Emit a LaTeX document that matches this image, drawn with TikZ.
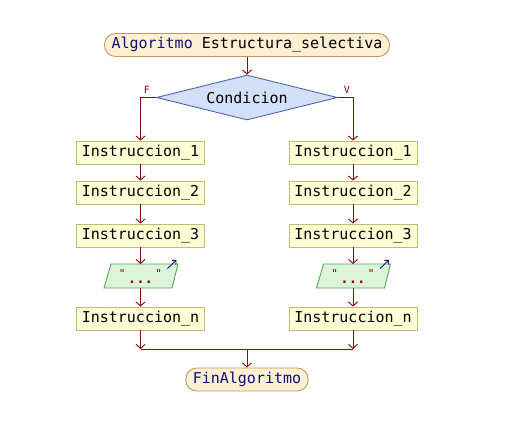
\documentclass[tikz,border=0pt]{standalone}
\usepackage{fontspec}
\setmonofont{DejaVu Sans Mono}
\usetikzlibrary{calc}
\usetikzlibrary{arrows}
\usetikzlibrary{arrows.meta}
\usetikzlibrary{shapes.geometric}
\definecolor{FlowRed}{HTML}{8C0A0A}
\definecolor{KeyBlue}{HTML}{10107A}
\definecolor{TermFill}{HTML}{FCEFD2}
\definecolor{TermLine}{HTML}{C49A5A}
\definecolor{BoxFill}{HTML}{FFFFD6}
\definecolor{BoxLine}{HTML}{C2BC74}
\definecolor{CondFill}{HTML}{D2E0F8}
\definecolor{CondLine}{HTML}{4A68AC}
\definecolor{OutFill}{HTML}{DAF5DA}
\definecolor{OutLine}{HTML}{5EA55E}
\tikzset{
  terminal/.style={draw=TermLine,fill=TermFill,rounded corners=11pt,line width=0.9pt,
    minimum height=23pt,inner xsep=7pt,font=\ttfamily\fontsize{15}{16}\selectfont},
  instr/.style={draw=BoxLine,fill=BoxFill,minimum width=128pt,minimum height=23pt,
    line width=0.9pt,inner sep=0pt,font=\ttfamily\fontsize{15}{16}\selectfont},
  cond/.style={diamond,draw=CondLine,fill=CondFill,aspect=4,minimum width=181pt,
    line width=0.9pt,minimum height=45pt,inner sep=0pt,
    font=\ttfamily\fontsize{15}{16}\selectfont},
  flecha/.style={draw=FlowRed,line width=0.9pt,-{Straight Barb[length=4pt,width=9pt]}},
  etiqueta/.style={text=FlowRed,font=\ttfamily\fontsize{10}{10}\selectfont,inner sep=1pt}
}
\begin{document}
\begin{tikzpicture}[x=1pt,y=-1pt]
  \useasboundingbox (0,0) rectangle (512,431);

  % inicio y condicion
  \node[terminal] (Inicio) at (247,45)
    {\textcolor{KeyBlue}{Algoritmo} Estructura\_selectiva};
  \node[cond] (Cond) at (247,97.5) {Condicion};
  \node[etiqueta] (LabF) at (147,90) {F};
  \node[etiqueta] (LabV) at (347,90) {V};

  % rama falsa (izquierda) y verdadera (derecha)
  \foreach \lado/\x in {Izq/140.5,Der/353}
  {
    \node[instr] (\lado-1) at (\x,152.5) {Instruccion\_1};
    \node[instr] (\lado-2) at (\x,192.5) {Instruccion\_2};
    \node[instr] (\lado-3) at (\x,235.5) {Instruccion\_3};
    % salida (paralelogramo)
    \coordinate (\lado-Out) at (\x,276);
    \draw[OutLine,fill=OutFill,line width=0.9pt] ($(\lado-Out)+(-29.5,-12)$)
      -- ($(\lado-Out)+(37.5,-12)$) -- ($(\lado-Out)+(31.5,12)$)
      -- ($(\lado-Out)+(-36.5,12)$) -- cycle;
    \coordinate (\lado-OutN) at ($(\lado-Out)+(0,-12)$);
    \coordinate (\lado-OutS) at ($(\lado-Out)+(0,12)$);
    \node[text=FlowRed,font=\ttfamily\fontsize{11}{11}\selectfont,inner sep=0pt,
      anchor=base] (\lado-Q) at ($(\lado-Out)+(0,1)$) {"\hspace{30pt}"};
    \node[text=FlowRed,font=\ttfamily\bfseries\fontsize{14}{14}\selectfont,inner sep=0pt,
      anchor=base] (\lado-D) at ($(\lado-Out)+(0,7)$) {...};
    \coordinate (\lado-A0) at ($(\lado-Out)+(27,-7.5)$);
    \coordinate (\lado-A1) at ($(\lado-Out)+(36,-16)$);
    \draw[KeyBlue,line width=0.9pt,-{Straight Barb[length=3pt,width=6pt]}]
      (\lado-A0) -- (\lado-A1);
    \node[instr] (\lado-n) at (\x,318.5) {Instruccion\_n};
    \draw[flecha] (\lado-1) -- (\lado-2);
    \draw[flecha] (\lado-2) -- (\lado-3);
    \draw[flecha] (\lado-3) -- (\lado-OutN);
    \draw[flecha] (\lado-OutS) -- (\lado-n);
  }

  % union
  \coordinate (UnionIzq) at (140.5,349);
  \coordinate (UnionDer) at (353,349);
  \coordinate (Union) at (247,349);
  \node[terminal] (Fin) at (247,379.5) {\textcolor{KeyBlue}{FinAlgoritmo}};

  \draw[flecha] (Inicio) -- (Cond);
  \draw[flecha] (Cond.west) -| (Izq-1.north);
  \draw[flecha] (Cond.east) -| (Der-1.north);
  \draw[flecha] (Izq-n) -- (UnionIzq);
  \draw[flecha] (Der-n) -- (UnionDer);
  \draw[FlowRed,line width=0.9pt] (UnionIzq) -- (UnionDer);
  \draw[flecha] (Union) -- (Fin);
\end{tikzpicture}
\end{document}
